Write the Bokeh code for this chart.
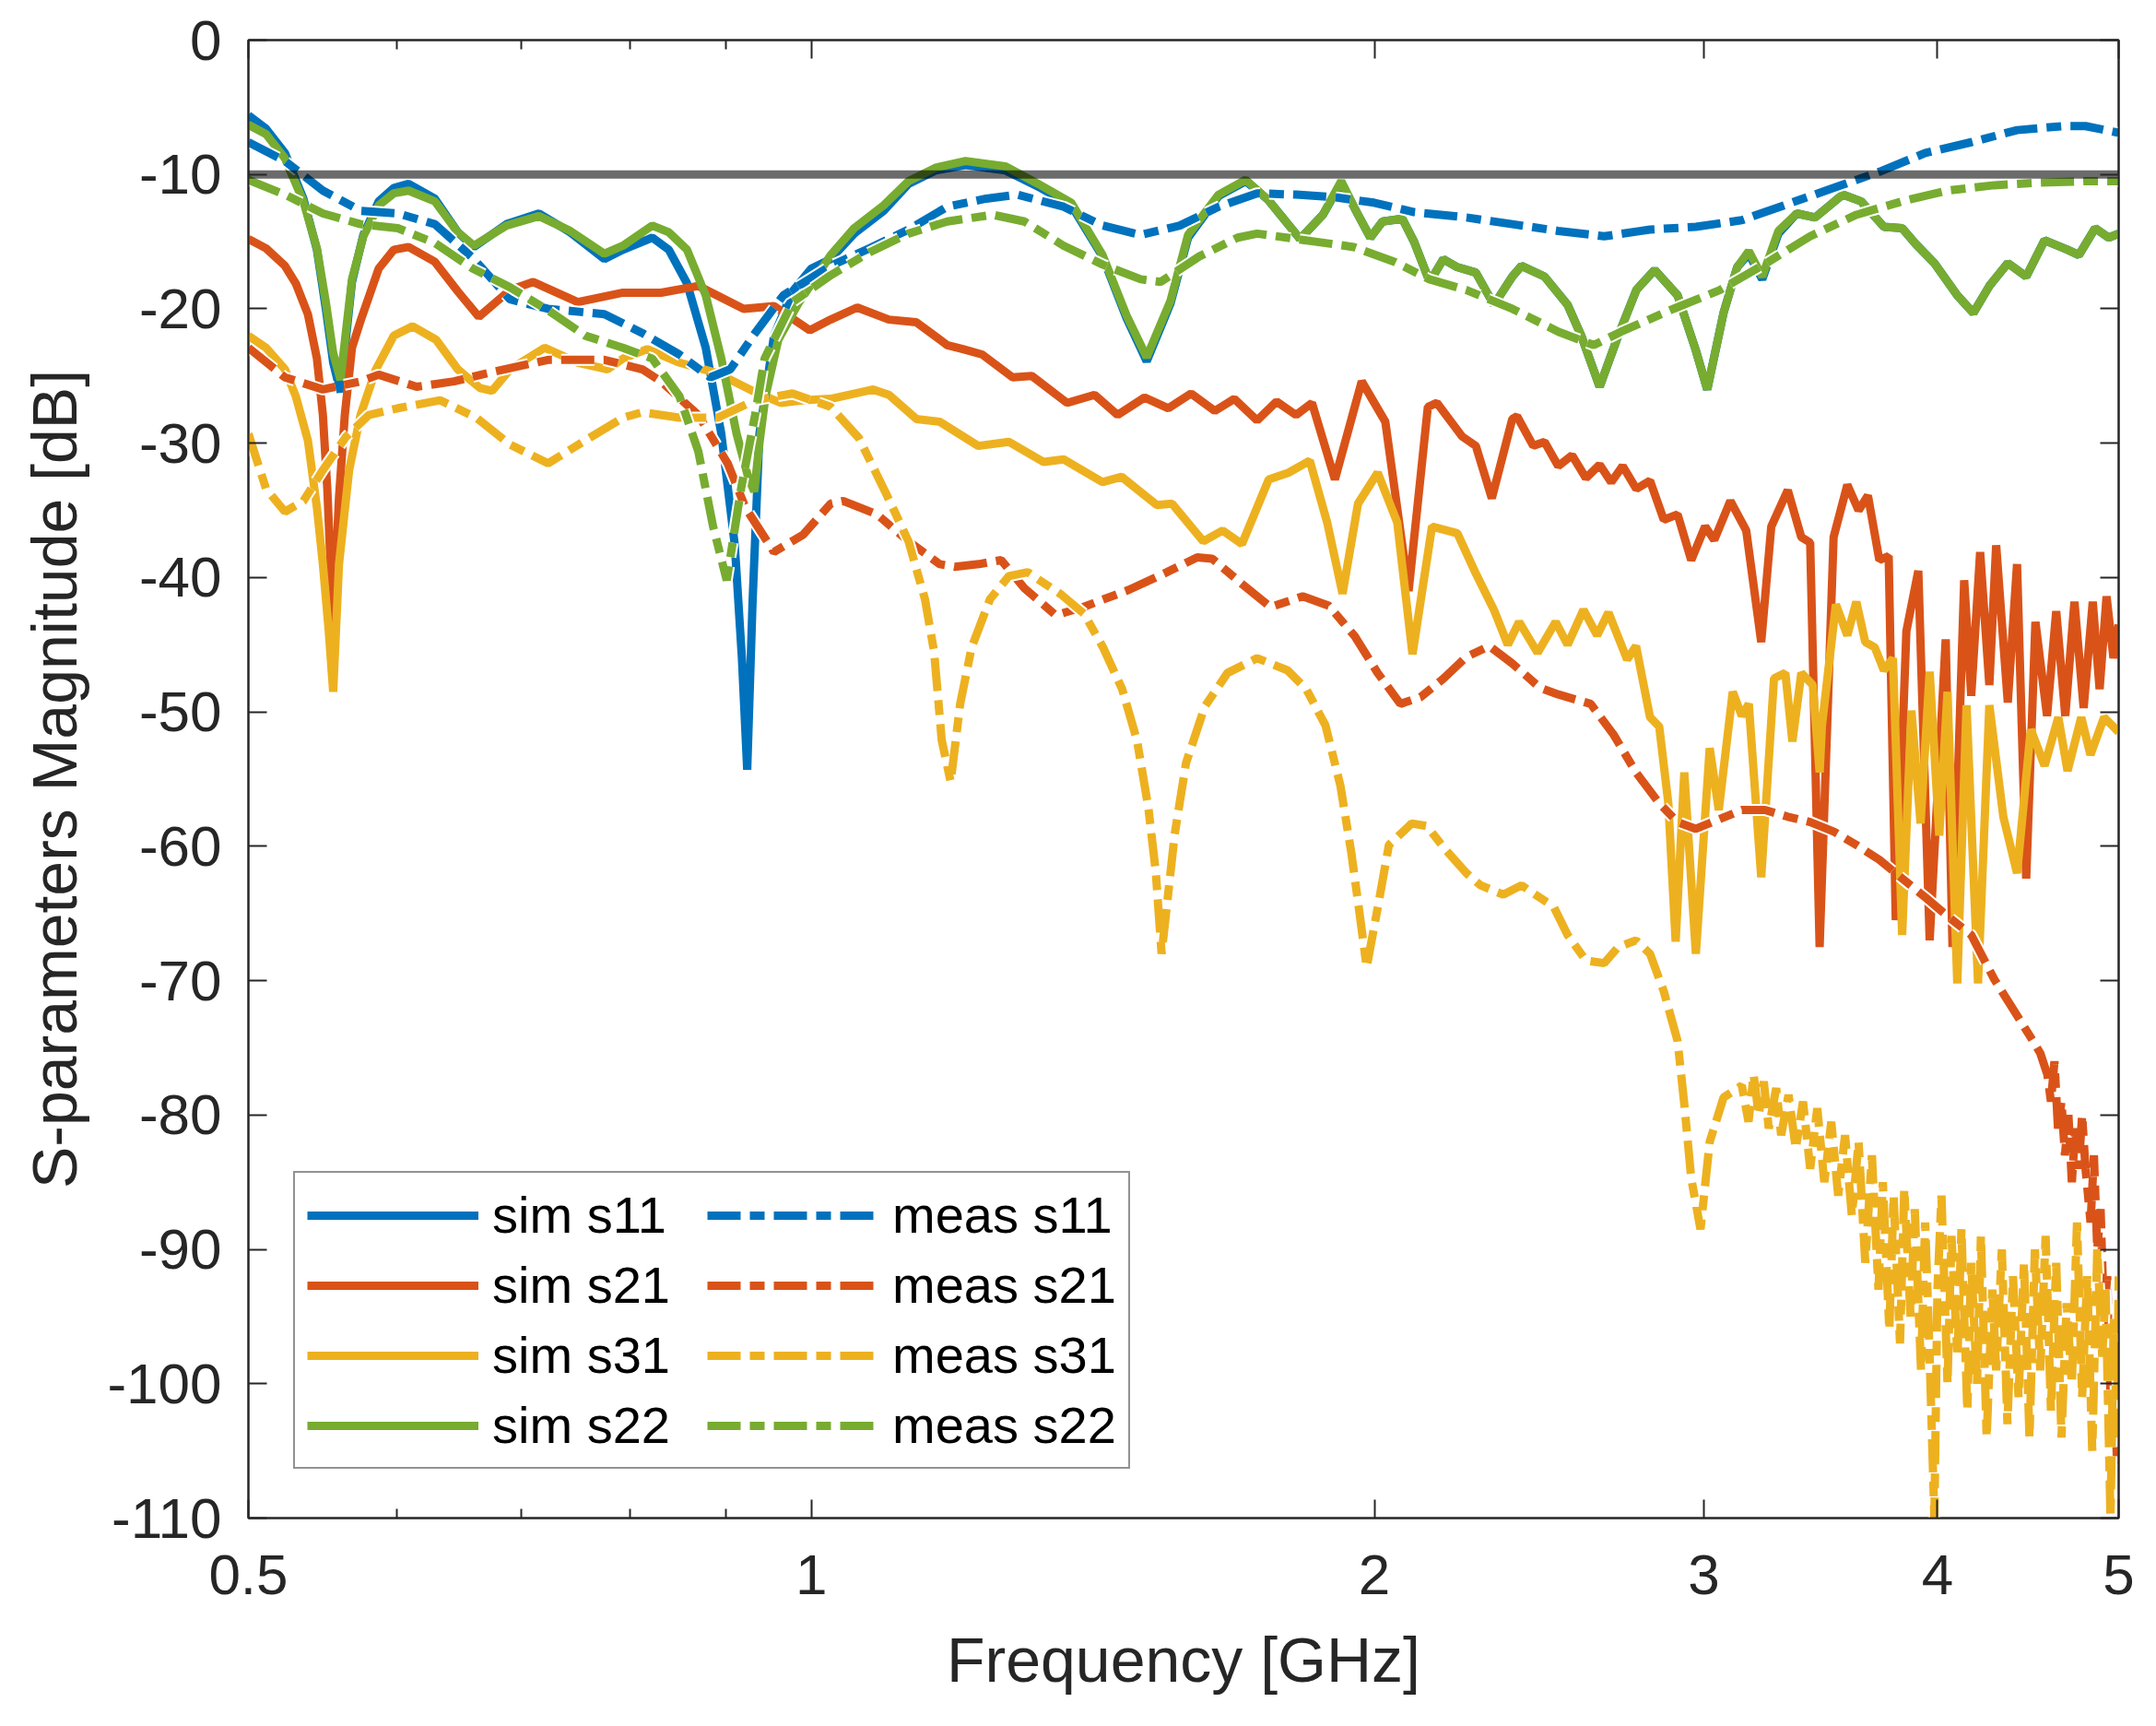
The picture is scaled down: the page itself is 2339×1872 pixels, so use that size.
from bokeh.plotting import figure
from bokeh.models import (Range1d, FixedTicker, LinearAxis, LogAxis, Legend, LegendItem)
from bokeh.embed import file_html
from bokeh.resources import INLINE

# ---------------- data (frequency in GHz, magnitude in dB) ----------------
sim_s11_f = [0.500, 0.511, 0.523, 0.535, 0.544, 0.550, 0.555, 0.560, 0.564, 0.568, 0.576, 0.587, 0.598, 0.609,
             0.629, 0.647, 0.660, 0.687, 0.715, 0.743, 0.775, 0.793, 0.822, 0.839, 0.858, 0.878, 0.895, 0.910,
             0.918, 0.924, 0.930, 0.938, 0.955, 0.977, 1.000, 1.024, 1.054, 1.093, 1.127, 1.165, 1.209, 1.270,
             1.322, 1.377, 1.431, 1.474, 1.511, 1.556, 1.590, 1.651, 1.707, 1.755, 1.825, 1.877, 1.920, 1.960,
             1.990, 2.020, 2.070, 2.100, 2.141, 2.177, 2.215, 2.266, 2.317, 2.370, 2.397, 2.466, 2.537, 2.580,
             2.639, 2.700, 2.761, 2.824, 2.905, 2.971, 3.013, 3.074, 3.126, 3.171, 3.224, 3.289, 3.364, 3.441,
             3.560, 3.641, 3.745, 3.830, 3.896, 3.985, 4.099, 4.181, 4.264, 4.362, 4.462, 4.564, 4.695, 4.761,
             4.857, 4.939, 5.000]
sim_s11_db = [-5.6, -6.6, -8.4, -11.8, -15.6, -20.0, -24.0, -26.2, -22.0, -18.0, -14.5, -12.0, -11.0, -10.7,
              -11.8, -14.3, -15.4, -13.7, -12.9, -14.3, -16.3, -15.6, -14.7, -15.6, -18.1, -22.9, -29.3, -37.6,
              -46.0, -54.3, -42.0, -29.3, -22.0, -18.7, -17.0, -16.3, -14.4, -12.7, -10.7, -9.7, -9.3, -9.7,
              -10.9, -12.3, -16.1, -20.7, -23.9, -19.6, -14.7, -11.6, -10.5, -11.9, -14.8, -13.0, -10.6, -13.0,
              -14.7, -13.5, -13.3, -15.0, -18.0, -16.3, -16.9, -17.3, -19.7, -17.6, -16.8, -17.6, -19.7, -22.0,
              -25.8, -22.0, -18.6, -17.1, -19.0, -23.1, -26.0, -20.3, -16.9, -15.9, -17.8, -14.4, -12.9, -13.2,
              -11.5, -12.0, -13.9, -14.0, -15.2, -16.6, -19.0, -20.3, -18.3, -16.6, -17.6, -14.9, -15.6, -16.0,
              -14.0, -14.7, -14.4]

sim_s22_f = [0.500, 0.511, 0.523, 0.535, 0.544, 0.550, 0.555, 0.560, 0.564, 0.568, 0.576, 0.587, 0.598, 0.609,
             0.629, 0.647, 0.660, 0.687, 0.715, 0.743, 0.775, 0.793, 0.822, 0.839, 0.858, 0.878, 0.895, 0.912,
             0.925, 0.932, 0.938, 0.945, 0.960, 0.985, 1.024, 1.054, 1.093, 1.127, 1.165, 1.209, 1.270, 1.322,
             1.377, 1.431, 1.474, 1.511, 1.556, 1.590, 1.651, 1.707, 1.755, 1.825, 1.877, 1.920, 1.960, 1.990,
             2.020, 2.070, 2.100, 2.141, 2.177, 2.215, 2.266, 2.317, 2.370, 2.397, 2.466, 2.537, 2.580, 2.639,
             2.700, 2.761, 2.824, 2.905, 2.971, 3.013, 3.074, 3.126, 3.171, 3.224, 3.289, 3.364, 3.441, 3.560,
             3.641, 3.745, 3.830, 3.896, 3.985, 4.099, 4.181, 4.264, 4.362, 4.462, 4.564, 4.695, 4.761, 4.857,
             4.939, 5.000]
sim_s22_db = [-6.3, -7.0, -8.8, -12.0, -15.5, -19.5, -23.3, -25.3, -21.5, -17.8, -14.6, -12.3, -11.4, -11.2,
              -12.0, -14.3, -15.3, -13.8, -13.1, -14.2, -15.9, -15.3, -13.8, -14.3, -15.6, -19.0, -23.7, -29.3,
              -32.5, -33.6, -30.0, -26.5, -22.3, -19.5, -16.0, -14.0, -12.3, -10.5, -9.5, -9.0, -9.4, -10.7,
              -12.1, -16.0, -20.5, -23.6, -19.4, -14.5, -11.5, -10.4, -11.9, -14.8, -13.0, -10.5, -13.0, -14.7,
              -13.5, -13.3, -15.0, -18.0, -16.3, -16.9, -17.3, -19.7, -17.6, -16.8, -17.6, -19.7, -22.0, -25.8,
              -22.0, -18.6, -17.1, -19.0, -23.1, -26.0, -20.3, -16.9, -15.7, -17.6, -14.2, -12.9, -13.2, -11.5,
              -12.0, -13.9, -14.0, -15.2, -16.6, -19.0, -20.3, -18.3, -16.6, -17.6, -14.9, -15.6, -16.0, -14.0,
              -14.7, -14.4]

sim_s21_f = [0.500, 0.511, 0.523, 0.530, 0.538, 0.544, 0.548, 0.551, 0.555, 0.559, 0.563, 0.568, 0.574, 0.587,
             0.598, 0.609, 0.629, 0.647, 0.664, 0.690, 0.710, 0.750, 0.793, 0.831, 0.870, 0.920, 0.955, 0.998,
             1.024, 1.058, 1.100, 1.138, 1.182, 1.205, 1.234, 1.281, 1.312, 1.370, 1.417, 1.458, 1.507, 1.552,
             1.596, 1.643, 1.683, 1.731, 1.773, 1.816, 1.852, 1.905, 1.969, 2.027, 2.086, 2.136, 2.160, 2.228,
             2.266, 2.311, 2.370, 2.384, 2.432, 2.466, 2.508, 2.551, 2.595, 2.639, 2.677, 2.715, 2.761, 2.808,
             2.856, 2.905, 2.954, 3.005, 3.039, 3.100, 3.161, 3.220, 3.260, 3.327, 3.383, 3.420, 3.460, 3.520,
             3.580, 3.630, 3.672, 3.724, 3.767, 3.800, 3.850, 3.907, 3.962, 4.041, 4.075, 4.134, 4.170, 4.216,
             4.264, 4.300, 4.362, 4.412, 4.462, 4.513, 4.578, 4.630, 4.682, 4.735, 4.789, 4.843, 4.884, 4.926,
             4.968, 5.000]
sim_s21_db = [-14.8, -15.5, -16.8, -18.1, -20.4, -23.7, -27.9, -33.4, -43.5, -34.0, -27.9, -22.9, -20.9, -17.0,
              -15.6, -15.4, -16.5, -18.7, -20.6, -18.6, -18.0, -19.5, -18.8, -18.8, -18.3, -20.0, -19.8, -21.6,
              -20.8, -19.9, -20.8, -21.0, -22.7, -23.0, -23.4, -25.1, -25.0, -27.0, -26.4, -27.9, -26.6, -27.4,
              -26.3, -27.6, -26.7, -28.3, -26.9, -27.9, -27.0, -32.7, -25.4, -28.4, -41.0, -27.3, -27.0, -29.5,
              -30.2, -34.1, -28.2, -28.0, -30.2, -29.9, -31.7, -30.9, -32.6, -31.6, -32.9, -31.7, -33.4, -32.8,
              -35.7, -35.3, -38.7, -36.2, -37.2, -34.3, -36.5, -44.8, -36.2, -33.5, -37.0, -37.4, -67.5, -37.0,
              -33.1, -35.0, -33.9, -38.7, -38.4, -65.5, -44.0, -39.5, -67.0, -44.6, -67.5, -40.2, -48.8, -38.1,
              -48.0, -37.6, -49.3, -39.0, -62.4, -43.3, -50.3, -42.5, -50.3, -41.8, -49.7, -41.8, -48.3, -41.4,
              -46.0, -43.5]

sim_s31_f = [0.500, 0.511, 0.523, 0.530, 0.538, 0.544, 0.548, 0.552, 0.555, 0.559, 0.566, 0.574, 0.585, 0.598,
             0.612, 0.630, 0.647, 0.665, 0.675, 0.690, 0.720, 0.750, 0.778, 0.793, 0.817, 0.850, 0.891, 0.933,
             0.963, 0.991, 1.024, 1.079, 1.100, 1.138, 1.171, 1.228, 1.275, 1.331, 1.364, 1.431, 1.465, 1.530,
             1.559, 1.620, 1.659, 1.699, 1.756, 1.799, 1.847, 1.887, 1.923, 1.960, 2.008, 2.057, 2.096, 2.147,
             2.215, 2.266, 2.317, 2.357, 2.390, 2.445, 2.500, 2.537, 2.587, 2.631, 2.668, 2.730, 2.760, 2.808,
             2.840, 2.872, 2.898, 2.929, 2.971, 3.022, 3.056, 3.109, 3.144, 3.171, 3.220, 3.271, 3.317, 3.346,
             3.383, 3.431, 3.460, 3.470, 3.530, 3.580, 3.620, 3.660, 3.703, 3.745, 3.787, 3.830, 3.874, 3.918,
             3.962, 4.009, 4.050, 4.099, 4.146, 4.205, 4.264, 4.338, 4.412, 4.487, 4.564, 4.642, 4.695, 4.775,
             4.829, 4.911, 5.000]
sim_s31_db = [-22.0, -22.9, -24.5, -26.5, -29.8, -34.8, -39.0, -44.0, -48.5, -39.0, -32.0, -27.9, -24.5, -22.0,
              -21.3, -22.3, -24.5, -25.9, -26.1, -24.5, -22.9, -24.0, -24.5, -23.7, -23.0, -24.0, -24.8, -26.2,
              -27.0, -26.8, -26.7, -26.0, -26.4, -28.2, -28.4, -30.2, -29.9, -31.4, -31.2, -32.9, -32.5, -34.6,
              -34.5, -37.3, -36.5, -37.5, -32.7, -32.2, -31.3, -35.9, -41.2, -34.5, -32.2, -35.9, -45.7, -36.2,
              -36.7, -39.7, -42.4, -45.0, -43.3, -45.6, -43.3, -45.0, -42.4, -44.3, -42.6, -46.1, -45.1, -50.4,
              -51.1, -56.8, -67.1, -54.5, -68.0, -52.7, -57.3, -48.5, -50.3, -49.4, -62.3, -47.5, -47.1, -52.2,
              -47.1, -48.0, -54.5, -51.0, -42.0, -44.3, -41.8, -44.8, -45.2, -46.9, -46.0, -66.6, -49.9, -58.3,
              -47.0, -59.2, -48.5, -70.2, -49.5, -70.2, -49.5, -57.8, -62.0, -51.3, -54.0, -50.4, -54.4, -50.4,
              -53.2, -50.4, -51.5]

meas_s11_f = [0.500, 0.523, 0.548, 0.574, 0.601, 0.629, 0.659, 0.690, 0.723, 0.775, 0.812, 0.850, 0.883, 0.905,
              0.933, 0.966, 1.024, 1.074, 1.127, 1.182, 1.240, 1.288, 1.364, 1.431, 1.500, 1.574, 1.651, 1.731,
              1.816, 1.905, 1.999, 2.100, 2.240, 2.370, 2.508, 2.654, 2.808, 2.971, 3.144, 3.327, 3.520, 3.724,
              3.941, 4.170, 4.412, 4.668, 4.800, 5.000]
meas_s11_db = [-7.6, -9.0, -11.2, -12.7, -12.9, -13.7, -16.2, -19.3, -20.0, -20.4, -21.8, -23.4, -25.1, -24.5,
               -21.8, -19.0, -16.8, -15.5, -14.1, -12.4, -11.8, -11.5, -12.4, -13.8, -14.5, -13.8, -12.4, -11.4,
               -11.5, -11.7, -12.1, -12.8, -13.2, -13.7, -14.2, -14.6, -14.1, -13.9, -13.4, -12.2, -11.0, -9.8,
               -8.4, -7.6, -6.7, -6.4, -6.4, -6.9]

meas_s22_f = [0.500, 0.523, 0.548, 0.574, 0.601, 0.629, 0.659, 0.690, 0.723, 0.757, 0.793, 0.822, 0.850, 0.870,
              0.886, 0.901, 0.917, 0.933, 0.944, 0.977, 1.024, 1.074, 1.127, 1.182, 1.250, 1.300, 1.364, 1.431,
              1.500, 1.537, 1.612, 1.690, 1.731, 1.860, 1.950, 2.050, 2.140, 2.240, 2.370, 2.508, 2.620, 2.710,
              2.890, 3.060, 3.240, 3.420, 3.620, 3.830, 4.050, 4.290, 4.540, 4.800, 5.000]
meas_s22_db = [-10.4, -11.5, -12.9, -13.7, -14.0, -15.1, -17.0, -18.4, -20.1, -22.0, -22.9, -23.7, -26.5, -30.6,
               -36.2, -40.2, -33.4, -27.9, -23.7, -19.5, -17.5, -15.8, -14.4, -13.5, -13.0, -13.5, -15.3, -16.7,
               -17.8, -18.0, -16.1, -14.7, -14.4, -15.0, -15.4, -16.5, -17.8, -18.6, -20.0, -21.7, -22.7, -21.7,
               -20.0, -18.6, -16.6, -14.6, -13.0, -12.0, -11.2, -10.8, -10.6, -10.5, -10.5]

meas_s21_f = [0.500, 0.523, 0.548, 0.574, 0.587, 0.615, 0.644, 0.675, 0.723, 0.775, 0.812, 0.831, 0.870, 0.902,
              0.922, 0.955, 0.990, 1.024, 1.040, 1.084, 1.127, 1.171, 1.193, 1.229, 1.263, 1.300, 1.351, 1.397,
              1.479, 1.549, 1.608, 1.638, 1.700, 1.760, 1.831, 1.891, 1.953, 2.008, 2.065, 2.117, 2.178, 2.240,
              2.304, 2.370, 2.452, 2.508, 2.610, 2.685, 2.760, 2.840, 2.905, 2.971, 3.056, 3.144, 3.235, 3.327,
              3.420, 3.520, 3.620, 3.724, 3.830, 3.941, 4.050, 4.170, 4.290, 4.412, 4.500, 4.540, 4.580, 4.600,
              4.620, 4.640, 4.660, 4.680, 4.700, 4.720, 4.740, 4.760, 4.780, 4.800, 4.830, 4.850, 4.870, 4.890,
              4.910, 4.930, 4.950, 4.970, 4.990, 5.000]
meas_s21_db = [-22.9, -25.1, -26.0, -25.4, -24.9, -25.8, -25.4, -24.7, -23.8, -23.8, -24.5, -25.4, -27.9, -31.5,
               -34.8, -38.1, -36.8, -34.5, -34.3, -35.3, -37.3, -39.0, -39.2, -39.0, -38.7, -40.8, -42.8, -42.2,
               -40.9, -39.6, -38.5, -38.6, -40.5, -42.2, -41.4, -42.1, -44.4, -47.1, -49.4, -48.9, -47.5, -45.9,
               -45.1, -46.4, -48.2, -48.7, -49.4, -51.7, -54.5, -56.8, -58.2, -58.7, -58.0, -57.3, -57.3, -57.8,
               -58.2, -58.9, -59.9, -61.0, -62.4, -63.8, -65.2, -66.6, -69.9, -72.6, -74.5, -75.4, -77.0, -79.0,
               -76.0, -81.0, -79.0, -83.0, -80.0, -85.0, -81.0, -84.0, -80.0, -84.0, -88.0, -83.0, -90.0, -87.0,
               -95.0, -92.0, -101.0, -98.0, -106.0, -104.0]

meas_s31_f = [0.500, 0.511, 0.523, 0.535, 0.548, 0.564, 0.580, 0.601, 0.633, 0.662, 0.690, 0.723, 0.757, 0.793,
              0.812, 0.850, 0.891, 0.933, 0.977, 1.024, 1.060, 1.095, 1.127, 1.150, 1.163, 1.174, 1.187, 1.201,
              1.218, 1.246, 1.275, 1.305, 1.361, 1.399, 1.432, 1.466, 1.493, 1.514, 1.528, 1.539, 1.564, 1.586,
              1.623, 1.669, 1.731, 1.797, 1.839, 1.883, 1.918, 1.944, 1.962, 1.981, 2.008, 2.036, 2.094, 2.134,
              2.178, 2.240, 2.279, 2.344, 2.397, 2.438, 2.494, 2.537, 2.595, 2.654, 2.700, 2.760, 2.808, 2.856,
              2.905, 2.929, 2.954, 2.988, 3.022, 3.074, 3.144, 3.170, 3.190, 3.210, 3.230, 3.250, 3.280, 3.300,
              3.330, 3.360, 3.390, 3.420, 3.450, 3.480, 3.510, 3.540, 3.570, 3.600, 3.630, 3.660, 3.690, 3.720,
              3.740, 3.770, 3.790, 3.820, 3.840, 3.870, 3.890, 3.920, 3.940, 3.960, 3.985, 4.000, 4.020, 4.050,
              4.070, 4.100, 4.120, 4.150, 4.170, 4.200, 4.220, 4.250, 4.280, 4.300, 4.330, 4.360, 4.390, 4.420,
              4.450, 4.480, 4.510, 4.540, 4.570, 4.600, 4.630, 4.660, 4.690, 4.720, 4.750, 4.780, 4.810, 4.840,
              4.870, 4.900, 4.920, 4.950, 4.970, 4.990, 5.000]
meas_s31_db = [-29.3, -33.4, -35.1, -34.3, -32.0, -29.5, -27.9, -27.4, -26.8, -28.1, -30.1, -31.5, -29.8, -28.1,
               -27.7, -28.1, -28.1, -26.8, -26.3, -27.3, -29.6, -33.6, -37.3, -41.6, -45.5, -52.1, -55.2, -49.4,
               -45.2, -41.6, -39.9, -39.6, -41.3, -42.7, -45.2, -48.3, -52.1, -57.1, -61.9, -68.0, -59.1, -53.8,
               -49.6, -47.1, -46.0, -46.9, -48.3, -51.0, -55.5, -60.5, -64.6, -69.0, -64.6, -59.9, -58.3, -58.5,
               -60.1, -62.0, -62.9, -63.6, -62.9, -63.6, -64.5, -66.6, -68.5, -68.7, -67.5, -67.0, -68.0, -70.8,
               -74.5, -79.2, -84.7, -88.5, -82.0, -78.7, -77.8, -80.5, -77.0, -80.0, -77.5, -81.0, -78.0, -81.5,
               -78.5, -82.5, -79.0, -84.0, -79.5, -85.0, -80.5, -86.0, -81.5, -87.5, -82.0, -91.0, -83.0, -93.0,
               -85.0, -96.0, -86.0, -97.0, -85.5, -95.0, -87.0, -99.0, -88.0, -97.0, -110.0, -93.0, -86.0, -100.0,
               -89.0, -98.0, -88.5, -102.0, -91.0, -100.0, -89.0, -104.0, -93.0, -99.0, -90.0, -103.0, -92.0, -101.0,
               -91.0, -104.0, -90.0, -99.0, -89.0, -102.0, -91.0, -104.0, -94.0, -100.0, -88.0, -101.0, -92.0, -105.0,
               -90.0, -98.0, -93.0, -110.0, -95.0, -104.0, -92.0]

ref_f = [0.5, 5.0]
ref_db = [-10.0, -10.0]

x_major_ticks = [0.5, 1, 2, 3, 4, 5]
x_minor_ticks = [0.6, 0.7, 0.8, 0.9]
x_tick_labels = ["0.5", "1", "2", "3", "4", "5"]
y_ticks = [0, -10, -20, -30, -40, -50, -60, -70, -80, -90, -100, -110]
y_tick_labels = ["0", "-10", "-20", "-30", "-40", "-50", "-60", "-70", "-80", "-90", "-100", "-110"]

BLUE, ORANGE, YELLOW, GREEN = "#0072BD", "#D95319", "#EDB120", "#77AC30"
AX = "#262626"
FONT = "Liberation Sans"
DASH = "36 10 16 10"

p = figure(width=2328, height=1860, x_axis_type="log",
           x_range=Range1d(0.5, 5.0), y_range=Range1d(-110, 0),
           output_backend="svg", toolbar_location=None,
           min_border_left=269, min_border_right=30, min_border_top=43, min_border_bottom=214,
           background_fill_color="white", border_fill_color="white")
p.xgrid.grid_line_color = None
p.ygrid.grid_line_color = None
p.outline_line_color = AX
p.outline_line_width = 2

xt = FixedTicker(ticks=x_major_ticks, minor_ticks=x_minor_ticks)
yt = FixedTicker(ticks=y_ticks, minor_ticks=[])


def style_axis(ax, labels, show):
    ax.axis_line_color = AX
    ax.axis_line_width = 2
    ax.major_tick_line_color = AX
    ax.major_tick_line_width = 2
    ax.minor_tick_line_color = AX
    ax.minor_tick_line_width = 2
    ax.major_tick_in = 20
    ax.major_tick_out = 0
    ax.minor_tick_in = 10
    ax.minor_tick_out = 0
    ax.major_label_text_font = FONT
    ax.axis_label_text_font = FONT
    ax.axis_label_text_font_style = "normal"
    ax.axis_label_text_color = AX
    ax.axis_label_text_font_size = "68px"
    if show:
        ax.major_label_text_color = AX
        ax.major_label_text_font_size = "62px"
        ax.major_label_overrides = labels
    else:
        ax.major_label_text_color = None
        ax.major_label_text_font_size = "1px"
        ax.major_label_standoff = 0


xax = p.xaxis[0]
xax.ticker = xt
style_axis(xax, {t: s for t, s in zip(x_major_ticks, x_tick_labels)}, True)
xax.major_label_standoff = 40
xax.axis_label = "Frequency [GHz]"
xax.axis_label_standoff = 30

yax = p.yaxis[0]
yax.ticker = yt
style_axis(yax, {t: s for t, s in zip(y_ticks, y_tick_labels)}, True)
yax.major_label_standoff = 29
yax.axis_label = "S-parameters Magnitude [dB]"
yax.axis_label_standoff = 16

top = LogAxis(ticker=xt)
style_axis(top, {}, False)
p.add_layout(top, "above")
right = LinearAxis(ticker=yt)
style_axis(right, {}, False)
p.add_layout(right, "right")

W = 9
r_s11 = p.line(sim_s11_f, sim_s11_db, line_color=BLUE, line_width=W)
r_s21 = p.line(sim_s21_f, sim_s21_db, line_color=ORANGE, line_width=W)
r_s31 = p.line(sim_s31_f, sim_s31_db, line_color=YELLOW, line_width=W)
r_s22 = p.line(sim_s22_f, sim_s22_db, line_color=GREEN, line_width=W)

meas = []
for f, d, c in [(meas_s11_f, meas_s11_db, BLUE), (meas_s21_f, meas_s21_db, ORANGE),
                (meas_s31_f, meas_s31_db, YELLOW), (meas_s22_f, meas_s22_db, GREEN)]:
    p.line(f, d, line_color="white", line_width=W + 4, line_dash=DASH)
    meas.append(p.line(f, d, line_color=c, line_width=W, line_dash=DASH))

p.line(ref_f, ref_db, line_color="black", line_alpha=0.58, line_width=9)

legend = Legend(items=[
    LegendItem(label="sim s11", renderers=[r_s11]),
    LegendItem(label="sim s21", renderers=[r_s21]),
    LegendItem(label="sim s31", renderers=[r_s31]),
    LegendItem(label="sim s22", renderers=[r_s22]),
    LegendItem(label="meas s11", renderers=[meas[0]]),
    LegendItem(label="meas s21", renderers=[meas[1]]),
    LegendItem(label="meas s31", renderers=[meas[2]]),
    LegendItem(label="meas s22", renderers=[meas[3]]),
], location=(49, 53), nrows=4, orientation="vertical")
legend.label_text_font = FONT
legend.label_text_font_size = "56px"
legend.label_text_color = "black"
legend.glyph_width = 186
legend.glyph_height = 60
legend.label_height = 60
legend.label_width = 222
legend.label_standoff = 15
legend.spacing = 11
legend.padding = 13
legend.margin = 0
legend.border_line_color = AX
legend.border_line_width = 2
legend.background_fill_color = "white"
legend.background_fill_alpha = 1.0
p.add_layout(legend, "center")

open("out.html", "w").write(file_html(p, INLINE))
